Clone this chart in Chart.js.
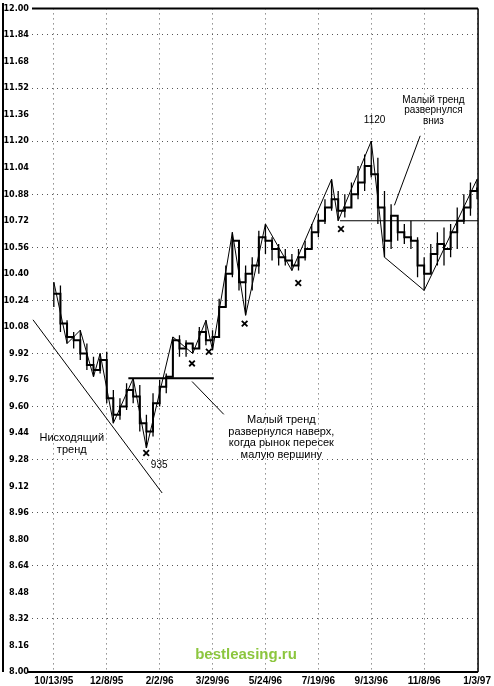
<!DOCTYPE html>
<html>
<head>
<meta charset="utf-8">
<script src="https://cdn.jsdelivr.net/npm/chart.js@4/dist/chart.umd.min.js"></script>
<style>
  html, body { margin: 0; padding: 0; background: #fff; }
  #wrap { width: 494px; height: 686px; position: relative; }
</style>
</head>
<body>
<div id="wrap"><canvas id="chart" width="494" height="686"></canvas></div>
<script>
// weekly bars, week 0 = 10/13/95
const highs = [10.35, 10.33, 10.12, 10.05, 10.06, 9.98, 9.90, 9.92, 9.93, 9.70,
               9.65, 9.74, 9.77, 9.73, 9.55, 9.68, 9.76, 9.80, 10.02, 10.03,
               10.00, 9.98, 10.08, 10.12, 10.06, 10.25, 10.45, 10.65, 10.55, 10.45,
               10.50, 10.66, 10.70, 10.62, 10.58, 10.55, 10.52, 10.55, 10.60, 10.70,
               10.76, 10.85, 10.97, 10.90, 10.88, 10.95, 11.05, 11.12, 11.20, 11.10,
               10.90, 10.82, 10.72, 10.70, 10.72, 10.62, 10.50, 10.58, 10.65, 10.68,
               10.70, 10.80, 10.88, 10.95, 10.97];
const lows  = [10.20, 10.05, 9.98, 9.95, 9.88, 9.82, 9.78, 9.80, 9.62, 9.50,
               9.52, 9.58, 9.62, 9.45, 9.35, 9.42, 9.60, 9.68, 9.82, 9.90,
               9.90, 9.92, 9.95, 9.97, 9.94, 10.02, 10.20, 10.38, 10.30, 10.15,
               10.30, 10.40, 10.52, 10.48, 10.45, 10.45, 10.42, 10.42, 10.48, 10.55,
               10.62, 10.70, 10.78, 10.72, 10.74, 10.80, 10.85, 10.90, 10.98, 10.70,
               10.50, 10.55, 10.60, 10.58, 10.55, 10.38, 10.30, 10.40, 10.45, 10.45,
               10.50, 10.55, 10.70, 10.75, 10.85];
const closes = [10.28, 10.10, 10.02, 10.00, 9.92, 9.85, 9.82, 9.88, 9.65, 9.55,
                9.60, 9.70, 9.66, 9.50, 9.45, 9.62, 9.72, 9.78, 10.00, 9.95,
                9.98, 9.95, 10.05, 10.00, 10.02, 10.20, 10.40, 10.60, 10.35, 10.40,
                10.45, 10.62, 10.60, 10.55, 10.50, 10.48, 10.45, 10.50, 10.55, 10.65,
                10.72, 10.80, 10.85, 10.78, 10.80, 10.88, 10.95, 11.05, 11.00, 10.80,
                10.60, 10.75, 10.65, 10.62, 10.60, 10.45, 10.40, 10.52, 10.58, 10.55,
                10.65, 10.72, 10.80, 10.90, 10.92];

// minor trend swing points
const swingWeeks  = [0, 2, 4, 6, 7, 9, 12, 14, 18, 21, 23, 24, 27, 29, 32, 36, 42, 43, 48, 50, 56, 64];
const swingValues = [10.35, 9.98, 10.06, 9.78, 9.92, 9.50, 9.77, 9.35, 10.02, 9.92, 10.12, 9.94,
                     10.65, 10.15, 10.70, 10.42, 10.97, 10.72, 11.20, 10.50, 10.30, 10.97];

// "X" marks under the minor lows
const markWeeks  = [13.97, 20.89, 23.44, 28.85, 36.96, 43.42];
const markValues = [9.32, 9.86, 9.93, 10.10, 10.345, 10.67];

// axes
const xTickWeeks = [0, 8, 16, 24, 32, 40, 48, 56, 64];
const xLabels = ['10/13/95', '12/8/95', '2/2/96', '3/29/96', '5/24/96', '7/19/96', '9/13/96', '11/8/96', '1/3/97'];
const yTicks = [8.00, 8.16, 8.32, 8.48, 8.64, 8.80, 8.96, 9.12, 9.28, 9.44, 9.60, 9.76, 9.92,
                10.08, 10.24, 10.40, 10.56, 10.72, 10.88, 11.04, 11.20, 11.36, 11.52, 11.68, 11.84, 12.00];

// trend and guide lines [week, value]
const downTrend = [[-3.15, 10.123], [16.38, 9.079]];
const upBreakLine = [[11.27, 9.77], [24.19, 9.77]];
const downBreakLine = [[43.27, 10.72], [64.15, 10.72]];
const leaderUp = [[20.9, 9.751], [25.7, 9.553]];
const leaderDown = [[55.4, 11.232], [51.5, 10.813]];

// text notes [week, value, font size, lines]
const notes = [
  [2.71, 9.41, 11, ['Нисходящий', 'тренд']],
  [15.93, 9.247, 10, ['935']],
  [34.4, 9.517, 11, ['Малый тренд', 'развернулся наверх,', 'когда рынок пересек', 'малую вершину']],
  [48.5, 11.328, 10, ['1120']],
  [57.4, 11.448, 10, ['Малый тренд', 'развернулся', 'вниз']]
];

const barPts = [];
highs.forEach((h, i) => {
  barPts.push({ x: i, y: lows[i] }, { x: i, y: h }, { x: i, y: null });
});
const toPts = arr => arr.map(p => ({ x: p[0], y: p[1] }));

const guide = (pts, w) => ({
  data: toPts(pts), showLine: true, borderColor: '#000', borderWidth: w,
  pointRadius: 0, fill: false
});

const framePlugin = {
  id: 'frame',
  afterDraw(chart) {
    const { ctx, chartArea: a, scales } = chart;
    ctx.save();
    ctx.strokeStyle = '#000';
    ctx.lineWidth = 2;
    ctx.beginPath();
    ctx.moveTo(3, 3); ctx.lineTo(3, a.bottom);
    ctx.moveTo(a.left, a.top); ctx.lineTo(a.right, a.top);
    ctx.moveTo(a.left - 4, a.bottom); ctx.lineTo(a.right, a.bottom);
    ctx.stroke();
    ctx.lineWidth = 1.5;
    ctx.beginPath();
    ctx.moveTo(a.right, a.top); ctx.lineTo(a.right, a.bottom);
    ctx.stroke();

    // notes
    ctx.fillStyle = '#000';
    ctx.textAlign = 'center';
    ctx.textBaseline = 'middle';
    notes.forEach(n => {
      const px = scales.x.getPixelForValue(n[0]);
      const py = scales.y.getPixelForValue(n[1]);
      ctx.font = n[2] + 'px "Liberation Sans", Arial, sans-serif';
      n[3].forEach((t, k) => ctx.fillText(t, px, py + k * (n[2] + 0.5)));
    });

    // watermark
    ctx.fillStyle = '#8cc63e';
    ctx.font = 'bold 15px "Liberation Sans", Arial, sans-serif';
    ctx.fillText('bestleasing.ru', 246, 655);
    ctx.restore();
  }
};

new Chart(document.getElementById('chart'), {
  type: 'scatter',
  data: {
    datasets: [
      { data: barPts, showLine: true, spanGaps: false, borderColor: '#000', borderWidth: 1.3, pointRadius: 0 },
      { data: closes.map((c, i) => ({ x: i, y: c })), showLine: true, stepped: 'before',
        borderColor: '#000', borderWidth: 2, pointRadius: 0 },
      { data: swingWeeks.map((w, i) => ({ x: w, y: swingValues[i] })), showLine: true,
        borderColor: '#000', borderWidth: 1, pointRadius: 0 },
      guide(downTrend, 1),
      guide(upBreakLine, 2),
      guide(downBreakLine, 1),
      guide(leaderUp, 1),
      guide(leaderDown, 1),
      { data: markWeeks.map((w, i) => ({ x: w, y: markValues[i] })), showLine: false,
        pointStyle: 'crossRot', pointRadius: 4, borderColor: '#000', borderWidth: 1.8 }
    ]
  },
  options: {
    responsive: false,
    animation: false,
    layout: { padding: { left: 0, right: 13, top: 5, bottom: 0 } },
    plugins: { legend: { display: false }, tooltip: { enabled: false } },
    scales: {
      x: {
        type: 'linear', min: -3.3, max: 64.15,
        afterBuildTicks: axis => { axis.ticks = xTickWeeks.map(v => ({ value: v })); },
        afterFit: scale => { scale.height = 14; },
        ticks: {
          autoSkip: false, maxRotation: 0, padding: 3, color: '#000',
          font: { family: '"Liberation Sans", Arial, sans-serif', size: 10, weight: 'bold' },
          callback: v => xLabels[xTickWeeks.indexOf(v)]
        },
        grid: { color: '#555', lineWidth: 1, drawTicks: false },
        border: { display: false, dash: [1, 4] }
      },
      y: {
        min: 8, max: 12,
        afterBuildTicks: axis => { axis.ticks = yTicks.map(v => ({ value: v })); },
        afterFit: scale => { scale.width = 32; },
        ticks: {
          autoSkip: false, padding: 3, color: '#000',
          font: { family: '"DejaVu Sans Condensed", "DejaVu Sans", sans-serif', size: 9, weight: 'bold' },
          callback: v => v.toFixed(2)
        },
        grid: {
          drawTicks: false, lineWidth: 1,
          color: c => {
            const i = Math.round((c.tick.value - 8) / 0.16);
            return (i % 2 === 0 && i > 0 && i < 25) ? '#555' : 'rgba(0,0,0,0)';
          }
        },
        border: { display: false, dash: [1, 4] }
      }
    }
  },
  plugins: [framePlugin]
});
</script>
</body>
</html>
